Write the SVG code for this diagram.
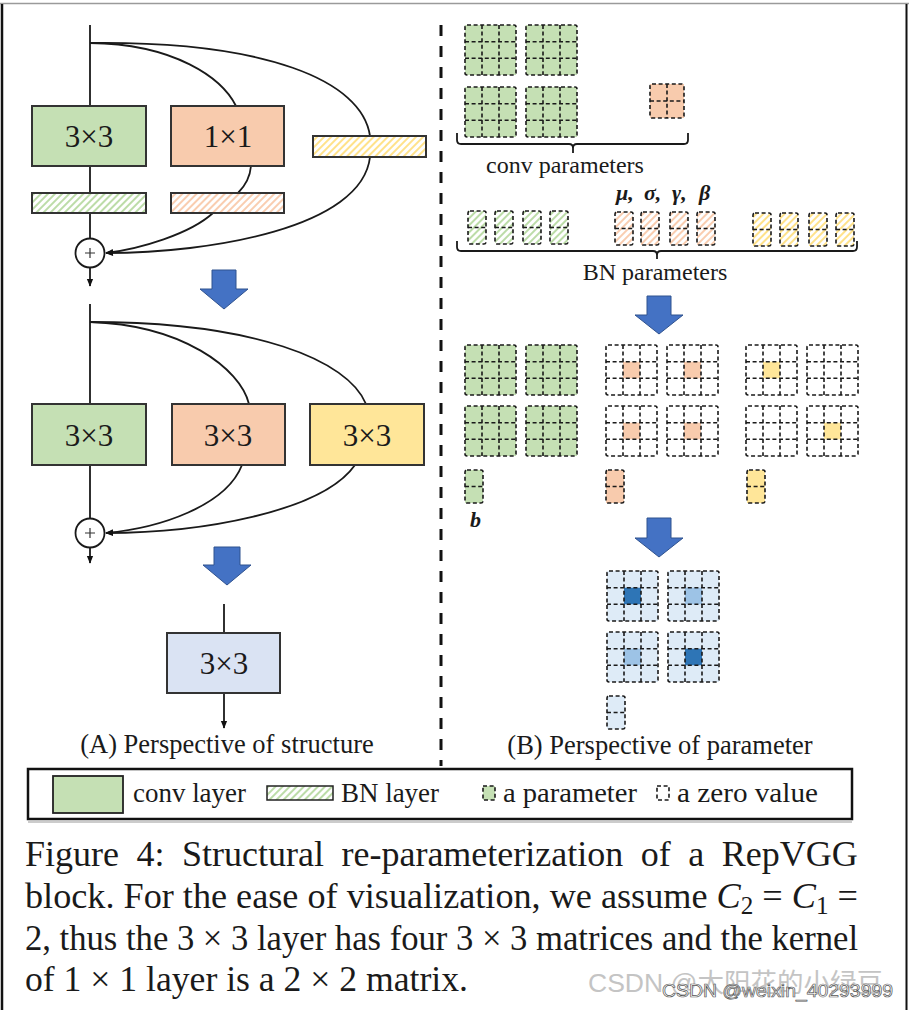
<svg xmlns="http://www.w3.org/2000/svg" xmlns:xlink="http://www.w3.org/1999/xlink" width="909" height="1010" viewBox="0 0 909 1010">
<style>
.t{font-family:"Liberation Serif","Times New Roman",serif;fill:#1a1a1a}
.box{stroke:#333;stroke-width:2}
.ln{fill:none;stroke:#1a1a1a;stroke-width:1.8}
.dg{fill:none;stroke:#1a1a1a;stroke-width:1.6;stroke-dasharray:4 2.6}
.barrow{fill:#4472c4;stroke:#2f528f;stroke-width:1}
.g{fill:#c5e0b4}.o{fill:#f8cbad}.y{fill:#ffe699}.b{fill:#dae3f3}
.lb{fill:#deebf7}
</style>
<defs>
<pattern id="hg" width="5" height="5" patternUnits="userSpaceOnUse" patternTransform="rotate(45)"><rect width="5" height="5" fill="#fff"/><line x1="1" y1="0" x2="1" y2="5" stroke="#bcdca8" stroke-width="2"/></pattern>
<pattern id="ho" width="5" height="5" patternUnits="userSpaceOnUse" patternTransform="rotate(45)"><rect width="5" height="5" fill="#fff"/><line x1="1" y1="0" x2="1" y2="5" stroke="#f9cdb0" stroke-width="2"/></pattern>
<pattern id="hy" width="5" height="5" patternUnits="userSpaceOnUse" patternTransform="rotate(45)"><rect width="5" height="5" fill="#fff"/><line x1="1" y1="0" x2="1" y2="5" stroke="#ffe28a" stroke-width="2"/></pattern>
<marker id="ah" viewBox="0 0 10 10" refX="9" refY="5" markerWidth="8" markerHeight="8" markerUnits="userSpaceOnUse" orient="auto"><path d="M0,1 L10,5 L0,9 z" fill="#111"/></marker>
<g id="m3"><rect x="0" y="0" width="51" height="50" rx="2" class="dg"/><path class="dg" d="M17,0V50M34,0V50M0,16.7H51M0,33.3H51"/></g>
<g id="m2"><rect x="0" y="0" width="34" height="34" rx="2" class="dg"/><path class="dg" d="M17,0V34M0,17H34"/></g>
<g id="v2"><rect x="0" y="0" width="18" height="33" rx="2" class="dg"/><path class="dg" d="M0,16.5H18"/></g>
</defs>
<rect width="909" height="1010" fill="#fff"/>
<g id="frame">
<line x1="0" y1="3.5" x2="909" y2="3.5" stroke="#9a9a9a" stroke-width="1.5"/>
<line x1="2" y1="4" x2="2" y2="1010" stroke="#111" stroke-width="2.5"/>
<line x1="906.5" y1="4" x2="906.5" y2="1010" stroke="#111" stroke-width="2"/>
<line x1="441" y1="25" x2="441" y2="766" stroke="#111" stroke-width="3" stroke-dasharray="11 10"/>
</g>

<g id="connectors">
<path class="ln" d="M90,25V106M90,166V193M90,213V238.5"/>
<path class="ln" d="M90,43 C175,44 222,78 236,106"/>
<path class="ln" d="M90,43 C265,41 362,80 370,136"/>
<path class="ln" d="M251,166 C250,178 245,186 238,193"/>
<path class="ln" d="M213,213 C190,234 140,249 106,253" marker-end="url(#ah)"/>
<path class="ln" d="M370,157 C362,228 210,253 106,253" marker-end="url(#ah)"/>
<path class="ln" d="M90,267.5V286" marker-end="url(#ah)"/>
<path class="ln" d="M90,304V404M90,465V518.5"/>
<path class="ln" d="M90,322 C182,325 240,368 249,404"/>
<path class="ln" d="M90,322 C255,322 348,360 366,404"/>
<path class="ln" d="M242,465 C226,506 160,528 106,533" marker-end="url(#ah)"/>
<path class="ln" d="M355,465 C322,512 200,533 106,533" marker-end="url(#ah)"/>
<path class="ln" d="M90,547.5V563" marker-end="url(#ah)"/>
<path class="ln" d="M224,604V633"/>
<path class="ln" d="M224,693V728" marker-end="url(#ah)"/>
</g>

<g id="b1-conv3"><rect x="32" y="106" width="114" height="60" class="box g"/><text x="89" y="147" class="t" font-size="31" text-anchor="middle">3×3</text></g>
<g id="b1-conv1"><rect x="171" y="106" width="113" height="60" class="box o"/><text x="228" y="147" class="t" font-size="31" text-anchor="middle">1×1</text></g>
<g id="b1-bnid"><rect x="313" y="136" width="113" height="21" class="box" fill="url(#hy)"/></g>
<g id="b1-bn3"><rect x="32" y="193" width="114" height="20" class="box" fill="url(#hg)"/></g>
<g id="b1-bn1"><rect x="171" y="193" width="113" height="20" class="box" fill="url(#ho)"/></g>
<g id="b1-add"><circle cx="90" cy="253" r="14.5" fill="#fff" stroke="#1a1a1a" stroke-width="1.8"/><path d="M85,253H95M90,248V258" stroke="#333" stroke-width="1.2"/></g>

<g id="b2-conv3a"><rect x="32" y="404" width="114" height="61" class="box g"/><text x="89" y="446" class="t" font-size="31" text-anchor="middle">3×3</text></g>
<g id="b2-conv3b"><rect x="172" y="404" width="113" height="61" class="box o"/><text x="228" y="446" class="t" font-size="31" text-anchor="middle">3×3</text></g>
<g id="b2-conv3c"><rect x="310" y="404" width="114" height="61" class="box y"/><text x="367" y="446" class="t" font-size="31" text-anchor="middle">3×3</text></g>
<g id="b2-add"><circle cx="90" cy="533" r="14.5" fill="#fff" stroke="#1a1a1a" stroke-width="1.8"/><path d="M85,533H95M90,528V538" stroke="#333" stroke-width="1.2"/></g>

<g id="b3-conv"><rect x="167" y="633" width="113" height="60" class="box b"/><text x="224" y="674" class="t" font-size="31" text-anchor="middle">3×3</text></g>

<g id="arrows">
<path class="barrow" d="M212,270H236V289H248L224,309L200,289H212Z"/>
<path class="barrow" d="M214,547H240V565H251L227,585L203,565H214Z"/>
<path class="barrow" d="M647,296H671V315H683L659,334L635,315H647Z"/>
<path class="barrow" d="M647,518H671V538H683L659,557L635,538H647Z"/>
</g>

<g id="label-a"><text x="227" y="753" class="t" font-size="26.5" text-anchor="middle">(A) Perspective of structure</text></g>
<g id="label-b"><text x="660" y="754" class="t" font-size="26.5" text-anchor="middle">(B) Perspective of parameter</text></g>

<g id="conv-params">
<rect x="465" y="25" width="51" height="50" class="g"/><use xlink:href="#m3" x="465" y="25"/>
<rect x="526" y="25" width="51" height="50" class="g"/><use xlink:href="#m3" x="526" y="25"/>
<rect x="465" y="87" width="51" height="50" class="g"/><use xlink:href="#m3" x="465" y="87"/>
<rect x="526" y="87" width="51" height="50" class="g"/><use xlink:href="#m3" x="526" y="87"/>
<rect x="650" y="84" width="34" height="34" class="o"/><use xlink:href="#m2" x="650" y="84"/>
<path class="ln" stroke-width="1.4" d="M457,133 V140 Q457,144 461,144 H569 Q573,144 573,148 V153 M573,148 Q573,144 577,144 H684 Q688,144 688,140 V133"/>
<text x="565" y="173" class="t" font-size="24" text-anchor="middle">conv parameters</text>
</g>

<g id="bn-params">
<text y="200" class="t" font-size="22" font-weight="bold" font-style="italic"><tspan x="616">μ,</tspan><tspan x="644">σ,</tspan><tspan x="672">γ,</tspan><tspan x="699">β</tspan></text>
<rect x="468" y="211" width="18" height="33" fill="url(#hg)"/><use xlink:href="#v2" x="468" y="211"/>
<rect x="495" y="211" width="18" height="33" fill="url(#hg)"/><use xlink:href="#v2" x="495" y="211"/>
<rect x="523" y="211" width="18" height="33" fill="url(#hg)"/><use xlink:href="#v2" x="523" y="211"/>
<rect x="550" y="211" width="18" height="33" fill="url(#hg)"/><use xlink:href="#v2" x="550" y="211"/>
<rect x="615" y="212" width="18" height="33" fill="url(#ho)"/><use xlink:href="#v2" x="615" y="212"/>
<rect x="641" y="212" width="18" height="33" fill="url(#ho)"/><use xlink:href="#v2" x="641" y="212"/>
<rect x="670" y="212" width="18" height="33" fill="url(#ho)"/><use xlink:href="#v2" x="670" y="212"/>
<rect x="697" y="212" width="18" height="33" fill="url(#ho)"/><use xlink:href="#v2" x="697" y="212"/>
<rect x="753" y="213" width="18" height="33" fill="url(#hy)"/><use xlink:href="#v2" x="753" y="213"/>
<rect x="780" y="213" width="18" height="33" fill="url(#hy)"/><use xlink:href="#v2" x="780" y="213"/>
<rect x="809" y="213" width="18" height="33" fill="url(#hy)"/><use xlink:href="#v2" x="809" y="213"/>
<rect x="836" y="213" width="18" height="33" fill="url(#hy)"/><use xlink:href="#v2" x="836" y="213"/>
<path class="ln" stroke-width="1.4" d="M457,241 V247 Q457,251 461,251 H653 Q657,251 657,255 V259 M657,255 Q657,251 661,251 H853 Q857,251 857,247 V241"/>
<text x="655" y="280" class="t" font-size="24" text-anchor="middle">BN parameters</text>
</g>

<g id="equiv-params">
<rect x="465" y="345" width="51" height="50" class="g"/><use xlink:href="#m3" x="465" y="345"/>
<rect x="526" y="345" width="51" height="50" class="g"/><use xlink:href="#m3" x="526" y="345"/>
<rect x="465" y="406" width="51" height="50" class="g"/><use xlink:href="#m3" x="465" y="406"/>
<rect x="526" y="406" width="51" height="50" class="g"/><use xlink:href="#m3" x="526" y="406"/>
<rect x="623" y="361.7" width="17" height="16.6" class="o"/><use xlink:href="#m3" x="606" y="345"/>
<rect x="684" y="361.7" width="17" height="16.6" class="o"/><use xlink:href="#m3" x="667" y="345"/>
<rect x="623" y="422.7" width="17" height="16.6" class="o"/><use xlink:href="#m3" x="606" y="406"/>
<rect x="684" y="422.7" width="17" height="16.6" class="o"/><use xlink:href="#m3" x="667" y="406"/>
<rect x="763" y="361.7" width="17" height="16.6" class="y"/><use xlink:href="#m3" x="746" y="345"/>
<use xlink:href="#m3" x="807" y="345"/>
<use xlink:href="#m3" x="746" y="406"/>
<rect x="824" y="422.7" width="17" height="16.6" class="y"/><use xlink:href="#m3" x="807" y="406"/>
<rect x="465" y="470" width="18" height="33" class="g"/><use xlink:href="#v2" x="465" y="470"/>
<rect x="606" y="470" width="18" height="33" class="o"/><use xlink:href="#v2" x="606" y="470"/>
<rect x="747" y="470" width="18" height="33" class="y"/><use xlink:href="#v2" x="747" y="470"/>
<text x="470" y="527" class="t" font-size="22" font-weight="bold" font-style="italic">b</text>
</g>

<g id="final-params">
<rect x="607" y="571" width="51" height="50" class="lb"/><rect x="624" y="587.7" width="17" height="16.6" fill="#2e75b6"/><use xlink:href="#m3" x="607" y="571"/>
<rect x="668" y="571" width="51" height="50" class="lb"/><rect x="685" y="587.7" width="17" height="16.6" fill="#9dc3e6"/><use xlink:href="#m3" x="668" y="571"/>
<rect x="607" y="632" width="51" height="50" class="lb"/><rect x="624" y="648.7" width="17" height="16.6" fill="#9dc3e6"/><use xlink:href="#m3" x="607" y="632"/>
<rect x="668" y="632" width="51" height="50" class="lb"/><rect x="685" y="648.7" width="17" height="16.6" fill="#2e75b6"/><use xlink:href="#m3" x="668" y="632"/>
<rect x="607" y="696" width="18" height="33" class="lb"/><use xlink:href="#v2" x="607" y="696"/>
</g>

<g id="legend">
<line x1="28" y1="822" x2="852" y2="822" stroke="#bbb" stroke-width="1.5"/>
<rect x="28" y="769" width="824" height="50" fill="#fff" stroke="#111" stroke-width="2.5"/>
<rect x="53" y="776" width="70" height="37" class="g" stroke="#222" stroke-width="1.8"/>
<text x="133" y="802" class="t" font-size="27" textLength="113" lengthAdjust="spacingAndGlyphs">conv layer</text>
<rect x="267" y="786" width="66" height="14" fill="url(#hg)" stroke="#222" stroke-width="1.5"/>
<text x="341" y="802" class="t" font-size="27" textLength="98" lengthAdjust="spacingAndGlyphs">BN layer</text>
<rect x="483" y="786" width="12" height="14" class="g"/><rect x="483" y="786" width="12" height="14" class="dg" stroke-dasharray="3 2"/>
<text x="503" y="802" class="t" font-size="27" textLength="134" lengthAdjust="spacingAndGlyphs">a parameter</text>
<rect x="657" y="786" width="12" height="14" class="dg" stroke-dasharray="3 2"/>
<text x="677" y="802" class="t" font-size="27" textLength="141" lengthAdjust="spacingAndGlyphs">a zero value</text>
</g>

<g id="caption" class="t" font-size="36">
<text x="25" y="866" word-spacing="8.5">Figure 4:  Structural re-parameterization of a RepVGG</text>
<text x="25" y="908" textLength="833" lengthAdjust="spacingAndGlyphs">block. For the ease of visualization, we assume <tspan font-style="italic">C</tspan><tspan font-size="25" dy="6">2</tspan><tspan dy="-6"> = </tspan><tspan font-style="italic">C</tspan><tspan font-size="25" dy="6">1</tspan><tspan dy="-6"> =</tspan></text>
<text x="25" y="950" textLength="833" lengthAdjust="spacingAndGlyphs">2, thus the 3 × 3 layer has four 3 × 3 matrices and the kernel</text>
<text x="25" y="991" textLength="443" lengthAdjust="spacingAndGlyphs">of 1 × 1 layer is a 2 × 2 matrix.</text>
</g>

<g id="watermark">
<text x="588" y="992" font-family="'Liberation Sans','Noto Sans CJK SC',sans-serif" font-size="26" fill="#c4c4c4" textLength="295" lengthAdjust="spacingAndGlyphs">CSDN @太阳花的小绿豆</text>
<text x="662" y="997" font-family="'Liberation Sans','Noto Sans CJK SC',sans-serif" font-size="19" fill="#fff" stroke="#555" stroke-width="0.7" textLength="231" lengthAdjust="spacingAndGlyphs">CSDN @weixin_40293999</text>
</g>
</svg>
